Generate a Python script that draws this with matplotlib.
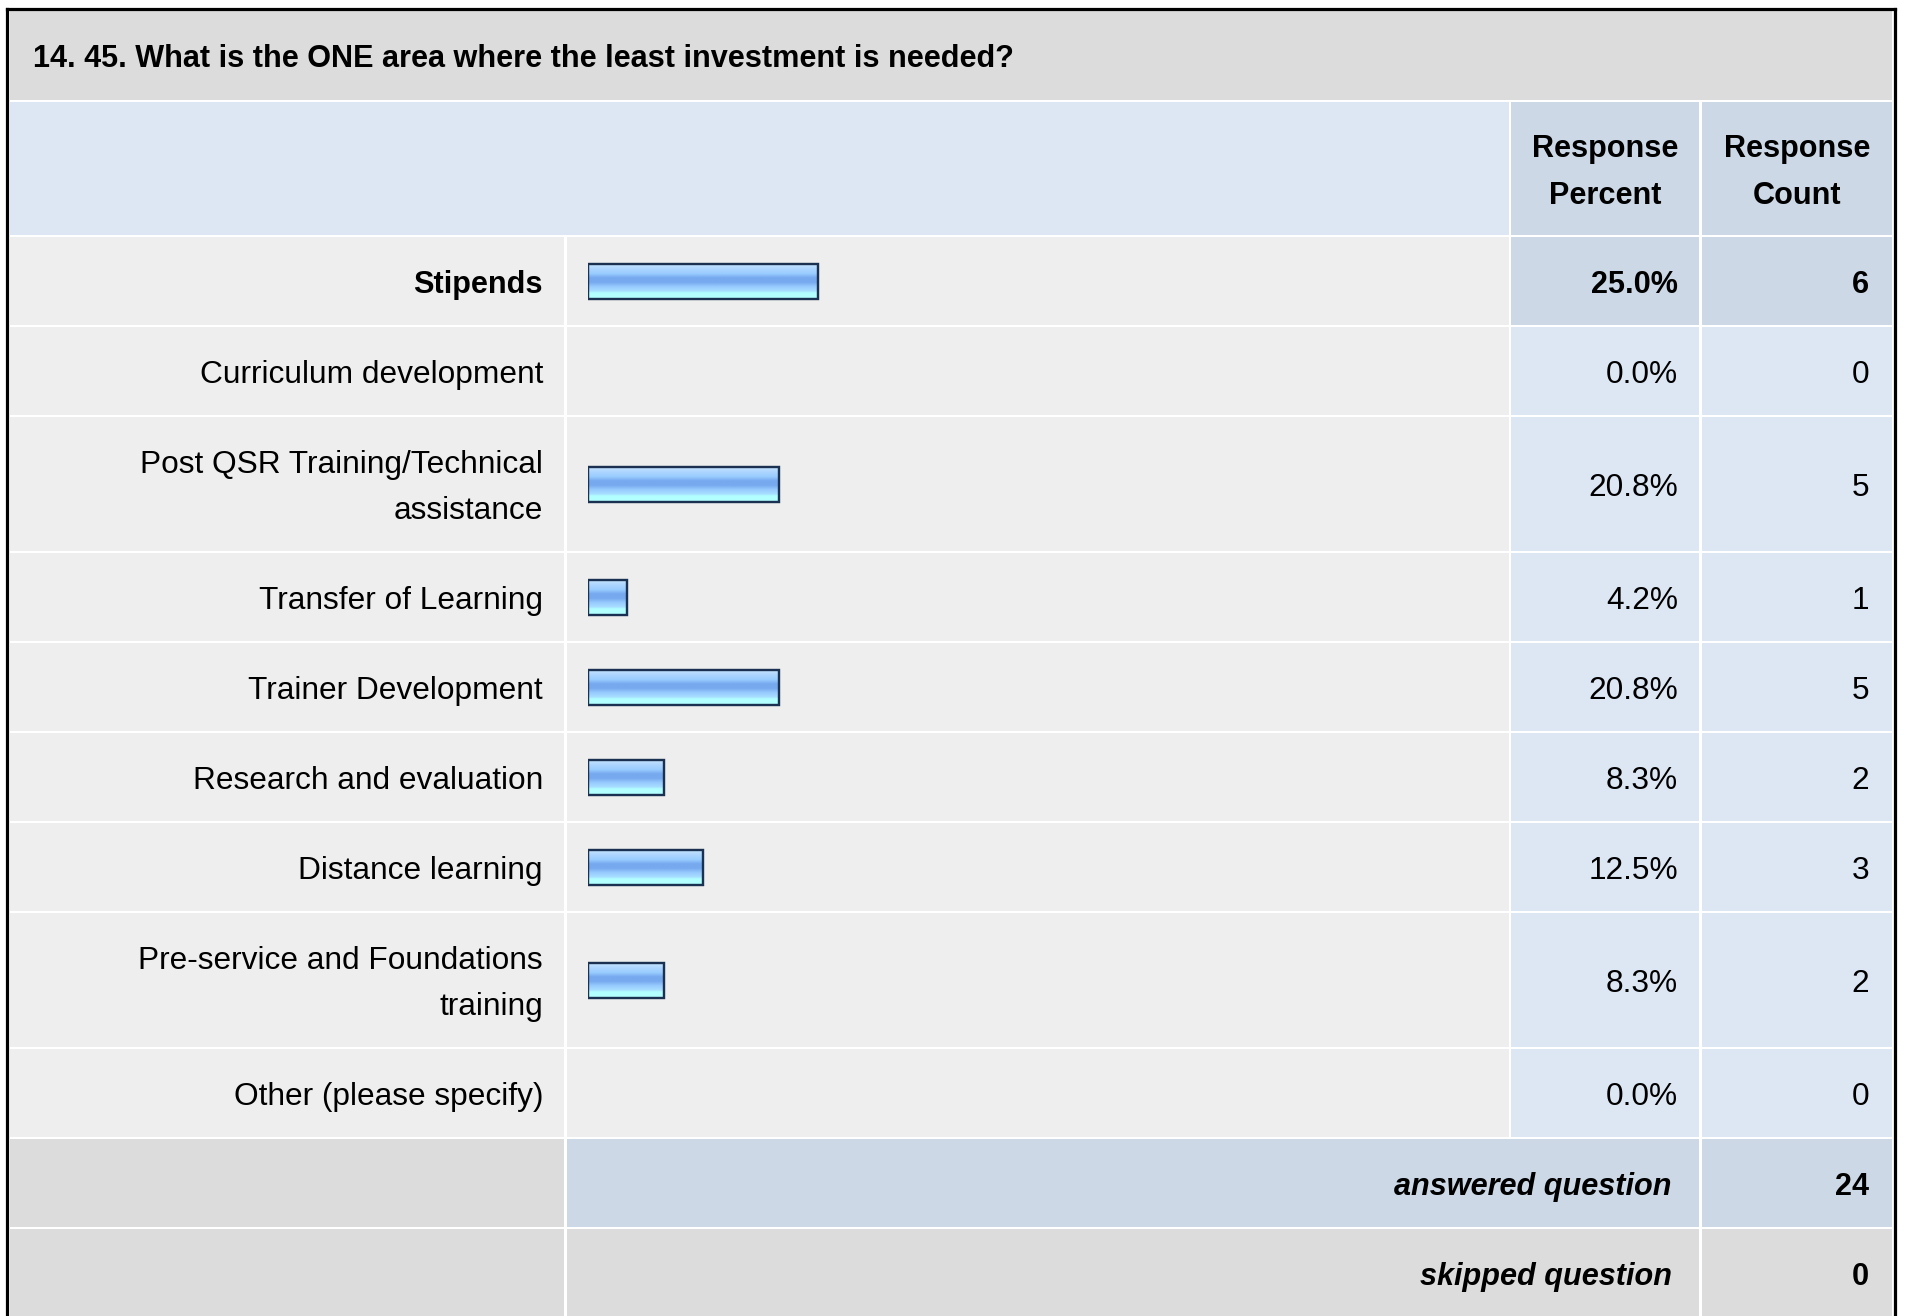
import matplotlib
matplotlib.use("Agg")
import matplotlib.pyplot as plt
from matplotlib.patches import Rectangle
from matplotlib.colors import LinearSegmentedColormap
import numpy as np

# ---------------- data ----------------
title = "14. 45. What is the ONE area where the least investment is needed?"
categories = [
    "Stipends",
    "Curriculum development",
    "Post QSR Training/Technical\nassistance",
    "Transfer of Learning",
    "Trainer Development",
    "Research and evaluation",
    "Distance learning",
    "Pre-service and Foundations\ntraining",
    "Other (please specify)",
]
percents = [25.0, 0.0, 20.8, 4.2, 20.8, 8.3, 12.5, 8.3, 0.0]
counts = [6, 0, 5, 1, 5, 2, 3, 2, 0]
header_percent = "Response\nPercent"
header_count = "Response\nCount"
answered_label = "answered question"
skipped_label = "skipped question"
answered = 24
skipped = 0

# ---------------- layout (pixels) ----------------
W, H = 1913, 1316
DPI = 100
FONT = "Liberation Sans"
PX = 72.0 / DPI
fs_body = 31.7 * PX
fs_bold = 30.6 * PX
fs_title = 30.6 * PX

GRAY = "#DCDCDC"
ROWBG = "#EEEEEE"
LBLUE = "#DDE7F4"
DBLUE = "#CCD8E6"

x_left, x_lab_end = 10, 564
x_bar0, x_bar_end = 567, 1509
x_pct0, x_pct_end = 1511, 1699
x_cnt0, x_cnt_end = 1702, 1892
bar_origin = 588
bar_full = 918  # px for 100 %

lab_right = 543
pct_right = 1678
cnt_right = 1869
summary_right = 1672
gap = 2
single_h, double_h = 88, 134
line_step = 46
base_off = 12

fig = plt.figure(figsize=(W / DPI, H / DPI), dpi=DPI)
fig.patch.set_facecolor("white")
ax = fig.add_axes([0, 0, 1, 1])
ax.set_xlim(0, W)
ax.set_ylim(H, 0)
ax.axis("off")


def cell(x0, x1, y0, y1, color):
    ax.add_patch(Rectangle((x0, y0), x1 - x0, y1 - y0, facecolor=color,
                           edgecolor="none", zorder=1))


def text_lines(x, yc, s, ha, weight="normal", style="normal", size=fs_body):
    lines = s.split("\n")
    n = len(lines)
    for i, ln in enumerate(lines):
        yl = yc + (i - (n - 1) / 2) * line_step
        ax.text(x, yl + base_off, ln, ha=ha, va="baseline", fontsize=size,
                fontweight=weight, fontstyle=style, family=FONT, color="black",
                zorder=5)


# title band
cell(x_left, x_cnt_end, 10, 100, GRAY)
ax.text(33, 67, title, ha="left", va="baseline", fontsize=fs_title,
        fontweight="bold", family=FONT, zorder=5)

# header
y0, y1 = 102, 235
cell(x_left, x_pct0 - gap, y0, y1, LBLUE)
cell(x_pct0, x_pct_end, y0, y1, DBLUE)
cell(x_cnt0, x_cnt_end, y0, y1, DBLUE)
text_lines((x_pct0 + x_pct_end) / 2, (y0 + y1) / 2, header_percent, "center", weight="bold", size=fs_bold)
text_lines((x_cnt0 + x_cnt_end) / 2, (y0 + y1) / 2, header_count, "center", weight="bold", size=fs_bold)

# rows
ymax = max(percents)
y = y1 + gap
centers = []
for cat, p, c in zip(categories, percents, counts):
    h = double_h if "\n" in cat else single_h
    r0, r1 = y, y + h
    yc = (r0 + r1) / 2
    centers.append(yc)
    top = (p == ymax)
    cell(x_left, x_lab_end, r0, r1, ROWBG)
    cell(x_bar0, x_bar_end, r0, r1, ROWBG)
    cell(x_pct0, x_pct_end, r0, r1, DBLUE if top else LBLUE)
    cell(x_cnt0, x_cnt_end, r0, r1, DBLUE if top else LBLUE)
    wt = "bold" if top else "normal"
    sz = fs_bold if top else fs_body
    text_lines(lab_right, yc, cat, "right", weight=wt, size=sz)
    text_lines(pct_right, yc, f"{p:.1f}%", "right", weight=wt, size=sz)
    text_lines(cnt_right, yc, f"{c}", "right", weight=wt, size=sz)
    y = r1 + gap

# answered row
r0, r1 = y, y + single_h
cell(x_left, x_lab_end, r0, r1, GRAY)
cell(x_bar0, x_pct_end, r0, r1, DBLUE)
cell(x_cnt0, x_cnt_end, r0, r1, DBLUE)
text_lines(summary_right, (r0 + r1) / 2, answered_label, "right", weight="bold", style="italic", size=fs_bold)
text_lines(cnt_right, (r0 + r1) / 2, str(answered), "right", weight="bold", size=fs_bold)
y = r1 + gap

# skipped row
r0, r1 = y, y + single_h
cell(x_left, x_lab_end, r0, r1, GRAY)
cell(x_bar0, x_pct_end, r0, r1, GRAY)
cell(x_cnt0, x_cnt_end, r0, r1, GRAY)
text_lines(summary_right, (r0 + r1) / 2, skipped_label, "right", weight="bold", style="italic", size=fs_bold)
text_lines(cnt_right, (r0 + r1) / 2, str(skipped), "right", weight="bold", size=fs_bold)

# outer frame
lw_frame = 3.2 * PX
ax.plot([6.5, 6.5], [H + 5, 8.5], color="black", lw=lw_frame, zorder=6, solid_capstyle="projecting")
ax.plot([6.5, 1895], [8.5, 8.5], color="black", lw=lw_frame, zorder=6, solid_capstyle="projecting")
ax.plot([1895, 1895], [8.5, H + 5], color="black", lw=lw_frame, zorder=6, solid_capstyle="projecting")

# ---------------- bars ----------------
bax = fig.add_axes([bar_origin / W, 0, bar_full / W, 1])
bax.set_xlim(0, 100)
bax.set_ylim(H, 0)
bax.axis("off")
bax.patch.set_alpha(0)

cmap = LinearSegmentedColormap.from_list("glass", [
    (0.00, "#CDE8FF"),
    (0.15, "#AED6FF"),
    (0.30, "#99CCFF"),
    (0.42, "#76A9EE"),
    (0.55, "#76A9EE"),
    (0.68, "#99CCFF"),
    (0.80, "#A6DCFF"),
    (0.86, "#B3FFFF"),
    (1.00, "#B3FFFF"),
])
grad = np.linspace(0, 1, 64).reshape(-1, 1)
bar_h = 35
bars = bax.barh(centers, percents, height=bar_h, left=0, facecolor="none",
                edgecolor="#1B3152", linewidth=2.4 * PX, zorder=4)
for b, p, yc in zip(bars, percents, centers):
    if p <= 0:
        b.set_visible(False)
        continue
    im = bax.imshow(grad, cmap=cmap, aspect="auto", origin="upper",
                    extent=[0, p, yc + bar_h / 2, yc - bar_h / 2], zorder=3,
                    interpolation="bilinear")
    im.set_clip_path(b)
bax.set_xlim(0, 100)
bax.set_ylim(H, 0)

fig.savefig("out.png", dpi=DPI, facecolor="white")
